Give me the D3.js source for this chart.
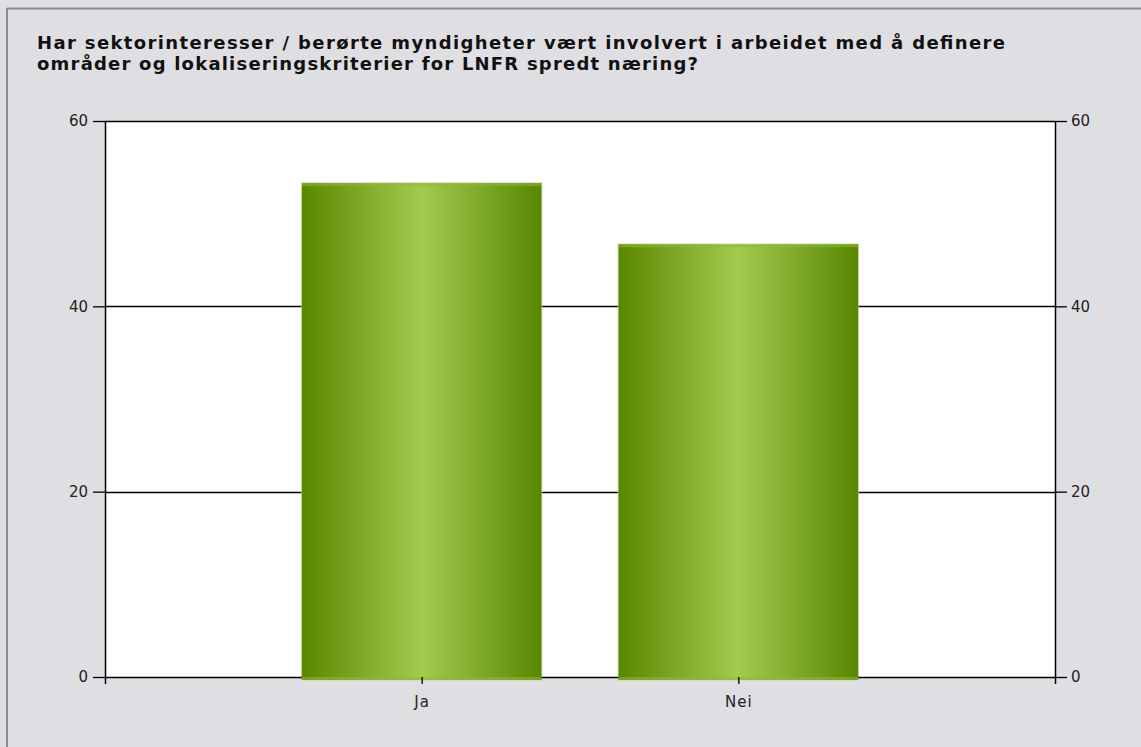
<!DOCTYPE html>
<html>
<head>
<meta charset="utf-8">
<script src="https://cdn.jsdelivr.net/npm/d3@7"></script>
<style>
  body { margin:0; background:#dfdfe3; }
  svg text { font-family: "DejaVu Sans", Verdana, sans-serif; }
</style>
</head>
<body>
<div id="canvas"></div>
<script>
// data
var categories = ['Ja', 'Nei'];
var values = [53.3, 46.7];
var yTicks = [0, 20, 40, 60];
var titleLines = [
  'Har sektorinteresser / berørte myndigheter vært involvert i arbeidet med å definere',
  'områder og lokaliseringskriterier for LNFR spredt næring?'
];
var titleWidths = [968, 661];

var W = 1141, H = 747;
var m = {t:121, r:86, b:70, l:105},
    w = W - m.l - m.r,
    h = H - m.t - m.b;

var svg = d3.select('#canvas').append('svg')
    .attr('width', W).attr('height', H);

// frame
svg.append('rect').attr('x',0).attr('y',0).attr('width',W).attr('height',H).attr('fill','#dfdfe3');
svg.append('line').attr('x1',7).attr('y1',8.5).attr('x2',W).attr('y2',8.5).attr('stroke','#8c8c8c').attr('stroke-width',2);
svg.append('line').attr('x1',7).attr('y1',8).attr('x2',7).attr('y2',H).attr('stroke','#8c8c8c').attr('stroke-width',2);

// title
svg.selectAll('.title').data(titleLines).enter().append('text')
    .attr('class','title')
    .attr('x', 37).attr('y', function(d,i){ return 49 + i*21; })
    .attr('textLength', function(d,i){ return titleWidths[i]; })
    .attr('lengthAdjust', 'spacing')
    .style('font-size','18px').style('font-weight','bold').attr('fill','#111')
    .text(function(d){ return d; });

var defs = svg.append('defs');
var grad = defs.append('linearGradient').attr('id','barGrad')
    .attr('x1','0%').attr('x2','100%').attr('y1','0%').attr('y2','0%');
grad.append('stop').attr('offset','0%').attr('stop-color','#5a8700');
grad.append('stop').attr('offset','50%').attr('stop-color','#a3cb4f');
grad.append('stop').attr('offset','100%').attr('stop-color','#578600');

var plot = svg.append('g').attr('transform','translate('+m.l+','+m.t+')');

var x = d3.scalePoint().domain(categories).range([0, w]).padding(1);
var y = d3.scaleLinear().domain([0, 60]).range([h, 0]);
var bw = x.step() * 0.757;

plot.append('rect').attr('width', w).attr('height', h).attr('fill', '#fff');

// gridlines
plot.selectAll('.grid').data(yTicks.filter(function(d){ return d > 0; })).enter()
    .append('line').attr('class','grid')
    .attr('x1',0).attr('x2',w)
    .attr('y1',function(d){ return Math.round(y(d))+0.5; })
    .attr('y2',function(d){ return Math.round(y(d))+0.5; })
    .attr('stroke','#000').attr('stroke-width',1.3);

// bars
var bars = plot.selectAll('.bar').data(values).enter().append('g').attr('class','bar');
bars.append('rect')
    .attr('x', function(d,i){ return x(categories[i]) - bw/2 - 1; })
    .attr('y', function(d){ return y(d) - 1; })
    .attr('width', bw + 2)
    .attr('height', function(d){ return h - y(d) + 5; })
    .attr('fill', '#c8d8a8').attr('opacity', 0.6);
bars.append('rect')
    .attr('x', function(d,i){ return x(categories[i]) - bw/2; })
    .attr('y', function(d){ return y(d); })
    .attr('width', bw)
    .attr('height', function(d){ return h - y(d) + 3; })
    .attr('fill', 'url(#barGrad)');
bars.append('rect')
    .attr('x', function(d,i){ return x(categories[i]) - bw/2; })
    .attr('y', function(d){ return y(d); })
    .attr('width', bw).attr('height', 3)
    .attr('fill', '#8fb83a').attr('opacity', 0.55);
bars.append('rect')
    .attr('x', function(d,i){ return x(categories[i]) - bw/2; })
    .attr('y', h)
    .attr('width', bw).attr('height', 3)
    .attr('fill', '#8fb83a').attr('opacity', 0.55);

// axes
var yl = d3.axisLeft(y).tickValues(yTicks).tickSize(12).tickPadding(5);
var yr = d3.axisRight(y).tickValues(yTicks).tickSize(12).tickPadding(4);
var xb = d3.axisBottom(x).tickSize(7).tickPadding(12);

function styleAxis(g){
  g.selectAll('path').remove();
  g.selectAll('line').attr('stroke','#000').attr('stroke-width',1.3);
  g.selectAll('text').attr('fill','#222').style('font-size','15px')
    .style('font-family','"DejaVu Sans", Verdana, sans-serif');
}

plot.append('g').call(yl).call(styleAxis);
plot.append('g').attr('transform','translate('+w+',0)').call(yr).call(styleAxis);
plot.append('g').attr('transform','translate(0,'+h+')').call(xb).call(styleAxis)
    .selectAll('text').style('letter-spacing','1px');

// axis lines
var axisStroke = function(sel){ return sel.attr('stroke','#000').attr('stroke-width',1.5); };
plot.append('line').attr('x1',0.5).attr('x2',0.5).attr('y1',0).attr('y2',h+7).call(axisStroke);
plot.append('line').attr('x1',w+0.5).attr('x2',w+0.5).attr('y1',0).attr('y2',h+7).call(axisStroke);
plot.append('line').attr('x1',0).attr('x2',x(categories[0]) - bw/2).attr('y1',h+0.5).attr('y2',h+0.5).call(axisStroke);
plot.append('line').attr('x1',x(categories[0]) + bw/2).attr('x2',x(categories[1]) - bw/2).attr('y1',h+0.5).attr('y2',h+0.5).call(axisStroke);
plot.append('line').attr('x1',x(categories[1]) + bw/2).attr('x2',w).attr('y1',h+0.5).attr('y2',h+0.5).call(axisStroke);
</script>
</body>
</html>
